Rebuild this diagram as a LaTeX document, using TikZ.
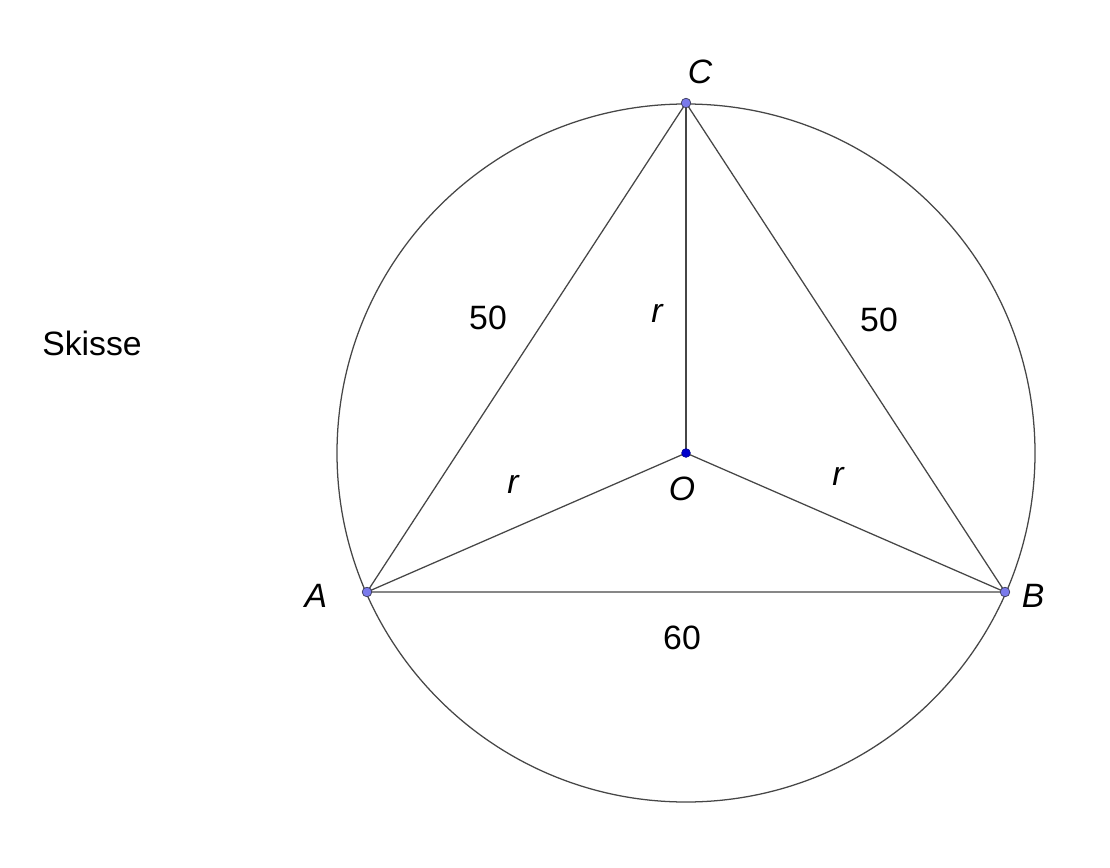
\documentclass[tikz,border=0pt]{standalone}
\usepackage{fontspec}
\setmainfont{Liberation Sans}
\usetikzlibrary{positioning}
\definecolor{ptfill}{RGB}{122,122,235}
\definecolor{ptdraw}{RGB}{60,60,90}
\definecolor{centre}{RGB}{0,0,204}
\definecolor{seg}{RGB}{70,70,70}
\begin{document}
\begin{tikzpicture}[x=0.025cm, y=-0.025cm]
\tikzset{
    mypoint/.style={circle, fill=ptfill, draw=ptdraw, line width=0.5pt, inner sep=0pt, minimum size=0.24cm},
    mycentre/.style={circle, fill=centre, draw=centre!70!black, line width=0.4pt, inner sep=0pt, minimum size=0.22cm},
    myline/.style={draw=seg, line width=0.9pt},
    mylabel/.style={font=\fontsize{24}{28}\selectfont\itshape, inner sep=0pt},
    mynum/.style={font=\fontsize{24}{28}\selectfont, inner sep=0pt}
}
\useasboundingbox (0,0) rectangle (1110,867);
\coordinate (O) at (686,453);
\coordinate (A) at (367,592);
\coordinate (B) at (1005,592);
\coordinate (C) at (686,103);

\draw[myline] (O) circle (349);
\draw[myline] (A) -- (B) -- (C) -- cycle;
\draw[myline] (O) -- (A);
\draw[myline] (O) -- (B);
\draw[myline] (O) -- (C);

\node[mypoint] (pA) at (A) {};
\node[mypoint] (pB) at (B) {};
\node[mypoint] (pC) at (C) {};
\node[mycentre] (pO) at (O) {};

\node[mylabel] (labC) at (700,72) {C};
\node[mylabel] (labO) at (682,489) {O};
\node[mylabel] (labA) at (316,596) {A};
\node[mylabel] (labB) at (1033,596) {B};
\node[mylabel] (rOC) at (657,313) {r};
\node[mylabel] (rOA) at (513,484) {r};
\node[mylabel] (rOB) at (838,476) {r};
\node[mynum] (sAC) at (488,318) {50};
\node[mynum] (sBC) at (879,320) {50};
\node[mynum] (sAB) at (682,638) {60};
\node[mynum] (title) at (92,343) {Skisse};
\end{tikzpicture}
\end{document}
